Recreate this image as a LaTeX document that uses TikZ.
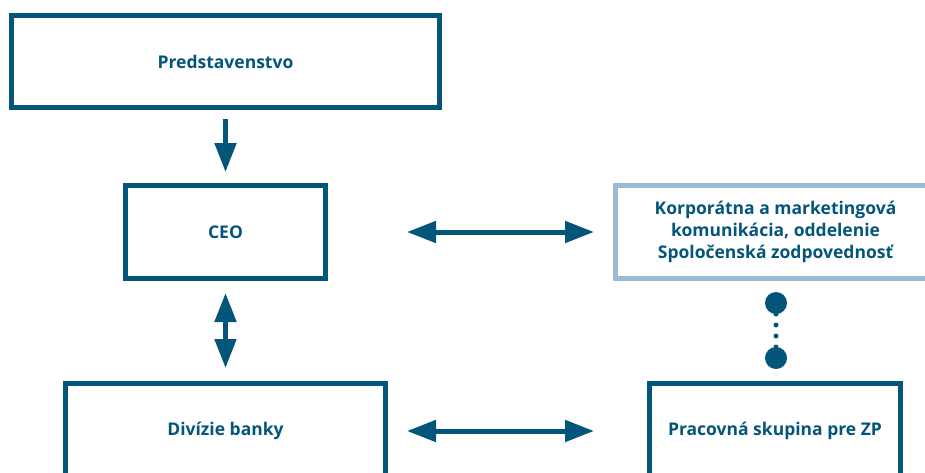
\documentclass[tikz,border=0pt]{standalone}
\usepackage{fontspec}
\setmainfont{Open Sans}
\usetikzlibrary{arrows.meta}
\definecolor{dteal}{HTML}{03567A}
\definecolor{lblue}{HTML}{9CBAD2}
\begin{document}
\begin{tikzpicture}[x=1pt,y=-1pt,
  box/.style={draw=dteal,line width=5pt,rectangle,inner sep=0pt,outer sep=0pt,
    text=dteal,font=\fontsize{17.5}{22}\selectfont\bfseries,align=center},
  lbox/.style={box,draw=lblue},
  arr/.style={draw=dteal,line width=5pt,-{Triangle[length=29pt,width=21pt]}},
  darr/.style={draw=dteal,line width=5pt,{Triangle[length=29pt,width=21pt]}-{Triangle[length=29pt,width=21pt]}},
  bigdot/.style={circle,fill=dteal,minimum size=22pt,inner sep=0pt,outer sep=0pt},
  dotline/.style={draw=dteal,line width=5pt,line cap=round,dash pattern=on 0pt off 11pt}
]
\useasboundingbox (0,0) rectangle (925,472);
\clip (0,0) rectangle (925,472);
\node[box,minimum width=428pt,minimum height=92pt] (pred) at (225.5,61.5) {Predstavenstvo};
\node[box,minimum width=200pt,minimum height=93pt] (ceo) at (225.5,232) {CEO};
\node[lbox,minimum width=320pt,minimum height=93pt] (korp) at (775.5,232) {Korporátna a marketingová\\komunikácia, oddelenie\\Spoločenská zodpovednosť};
\node[box,minimum width=320pt,minimum height=95pt] (div) at (225.5,431) {Divízie banky};
\node[box,minimum width=251pt,minimum height=95pt] (prac) at (775,431) {Pracovná skupina pre ZP};
\draw[arr,shorten <=11.5pt,shorten >=13.5pt] (pred.south) -- (ceo.north);
\draw[darr,shorten <=14.5pt,shorten >=15.5pt] (ceo.south) -- (div.north);
\draw[darr,shorten <=81.5pt,shorten >=21.5pt] (ceo.east) -- (korp.west);
\draw[darr,shorten <=21.5pt,shorten >=55.5pt] (div.east) -- (prac.west);
\node[bigdot] (d1) at (776,303) {};
\node[bigdot] (d2) at (776,358) {};
\draw[dotline] (d1.center) -- (d2.center);
\end{tikzpicture}
\end{document}
